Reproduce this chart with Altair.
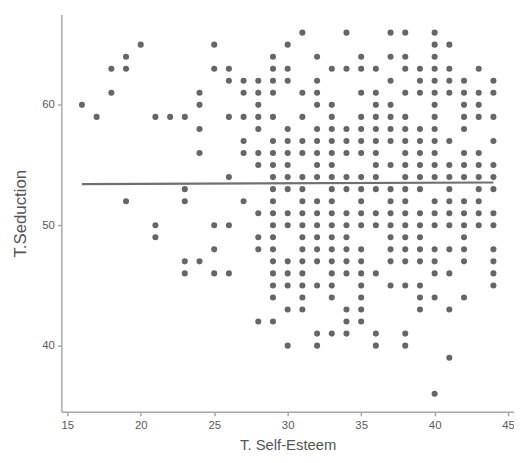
import altair as alt
import pandas as pd

# T.Seduction values observed at each T. Self-Esteem score
c16 = [60]
c17 = [59]
c18 = [63, 61]
c19 = [64, 63, 52]
c20 = [65]
c21 = [59, 50, 49]
c22 = [59]
c23 = [59, 53, 52, 47, 46]
c24 = [61, 60, 58, 56, 47]
c25 = [65, 63, 50, 48, 46]
c26 = [63, 62, 59, 54, 50, 46]
c27 = [62, 61, 59, 57, 56, 52]
c28 = [62, 61, 60, 59, 58, 56, 55, 51, 49, 48, 42]
c29 = [64, 63, 62, 61, 59, 57, 56, 55, 54, 53, 52, 51, 50, 49, 48, 47, 46, 45, 44, 42]
c30 = [65, 63, 62, 58, 57, 56, 55, 54, 53, 51, 50, 47, 46, 45, 43, 40]
c31 = [66, 61, 59, 57, 56, 54, 53, 52, 51, 50, 49, 48, 47, 46, 45, 44, 43]
c32 = [64, 62, 61, 60, 58, 57, 56, 55, 54, 52, 51, 50, 49, 48, 47, 45, 41, 40]
c33 = [63, 60, 59, 58, 57, 56, 55, 54, 53, 52, 51, 50, 49, 48, 47, 46, 45, 44, 41]
c34 = [66, 63, 58, 57, 56, 54, 53, 51, 50, 49, 48, 47, 46, 43, 42, 41]
c35 = [64, 63, 61, 59, 58, 57, 56, 54, 53, 52, 51, 50, 48, 47, 46, 45, 44, 43, 42]
c36 = [63, 61, 60, 59, 58, 57, 56, 55, 54, 53, 51, 50, 46, 41, 40]
c37 = [66, 64, 62, 60, 59, 58, 57, 55, 53, 52, 51, 50, 49, 48, 47, 45]
c38 = [66, 64, 63, 61, 59, 58, 57, 56, 55, 54, 53, 52, 51, 50, 49, 48, 47, 45, 41, 40]
c39 = [63, 62, 61, 58, 57, 56, 55, 54, 53, 51, 50, 49, 48, 47, 45, 44, 43]
c40 = [66, 65, 64, 63, 62, 61, 60, 59, 58, 57, 56, 55, 54, 52, 51, 50, 48, 47, 46, 44, 36]
c41 = [65, 63, 62, 61, 57, 55, 54, 53, 52, 51, 50, 48, 46, 43, 39]
c42 = [62, 61, 60, 59, 58, 56, 55, 54, 52, 51, 50, 49, 48, 47, 44]
c43 = [63, 61, 60, 59, 56, 55, 54, 53, 52, 51, 50]
c44 = [62, 61, 59, 57, 55, 54, 53, 51, 50, 48, 47, 46, 45]

esteem_scores = list(range(16, 45))
seduction_columns = [c16, c17, c18, c19, c20, c21, c22, c23, c24, c25, c26, c27,
                     c28, c29, c30, c31, c32, c33, c34, c35, c36, c37, c38, c39,
                     c40, c41, c42, c43, c44]

# fitted line end points
line_x = [16, 44]
line_y = [53.42, 53.55]

x_ticks = [15, 20, 25, 30, 35, 40, 45]
y_ticks = [40, 50, 60]

rows = []
for xv, ys in zip(esteem_scores, seduction_columns):
    for yv in ys:
        rows.append({"esteem": xv, "seduction": yv})
points_df = pd.DataFrame(rows)
line_df = pd.DataFrame({"esteem": line_x, "seduction": line_y})

x_scale = alt.Scale(domain=[14.6, 45.4], nice=False, zero=False)
y_scale = alt.Scale(domain=[34.5, 67.5], nice=False, zero=False)

x_enc = alt.X("esteem:Q", scale=x_scale,
              axis=alt.Axis(title="T. Self-Esteem", values=x_ticks, titlePadding=7,
                            labelPadding=4))
y_enc = alt.Y("seduction:Q", scale=y_scale,
              axis=alt.Axis(title="T.Seduction", values=y_ticks, titlePadding=12))

pts = alt.Chart(points_df).mark_circle(size=38, color="#404040", opacity=0.8).encode(
    x=x_enc, y=y_enc
)

line = alt.Chart(line_df).mark_line(color="#707070", strokeWidth=2.2).encode(
    x=alt.X("esteem:Q", scale=x_scale),
    y=alt.Y("seduction:Q", scale=y_scale),
)

chart = (pts + line).properties(
    width=458,
    height=402,
    autosize=alt.AutoSizeParams(type="none"),
    padding={"left": 54, "top": 4, "right": 0, "bottom": 41},
).configure_view(stroke=None).configure_axis(
    grid=False,
    domainColor="#a8a8a8",
    domainWidth=1.5,
    tickColor="#a8a8a8",
    tickWidth=1.5,
    tickSize=4,
    labelPadding=3,
    labelColor="#5a5a5a",
    labelFont="Liberation Sans",
    labelFontSize=11.5,
    titleColor="#555555",
    titleFont="Liberation Sans",
    titleFontWeight="normal",
).configure_axisX(titleFontSize=15).configure_axisY(titleFontSize=17)

chart.save("out.html", embed_options={"renderer": "svg", "actions": False})
